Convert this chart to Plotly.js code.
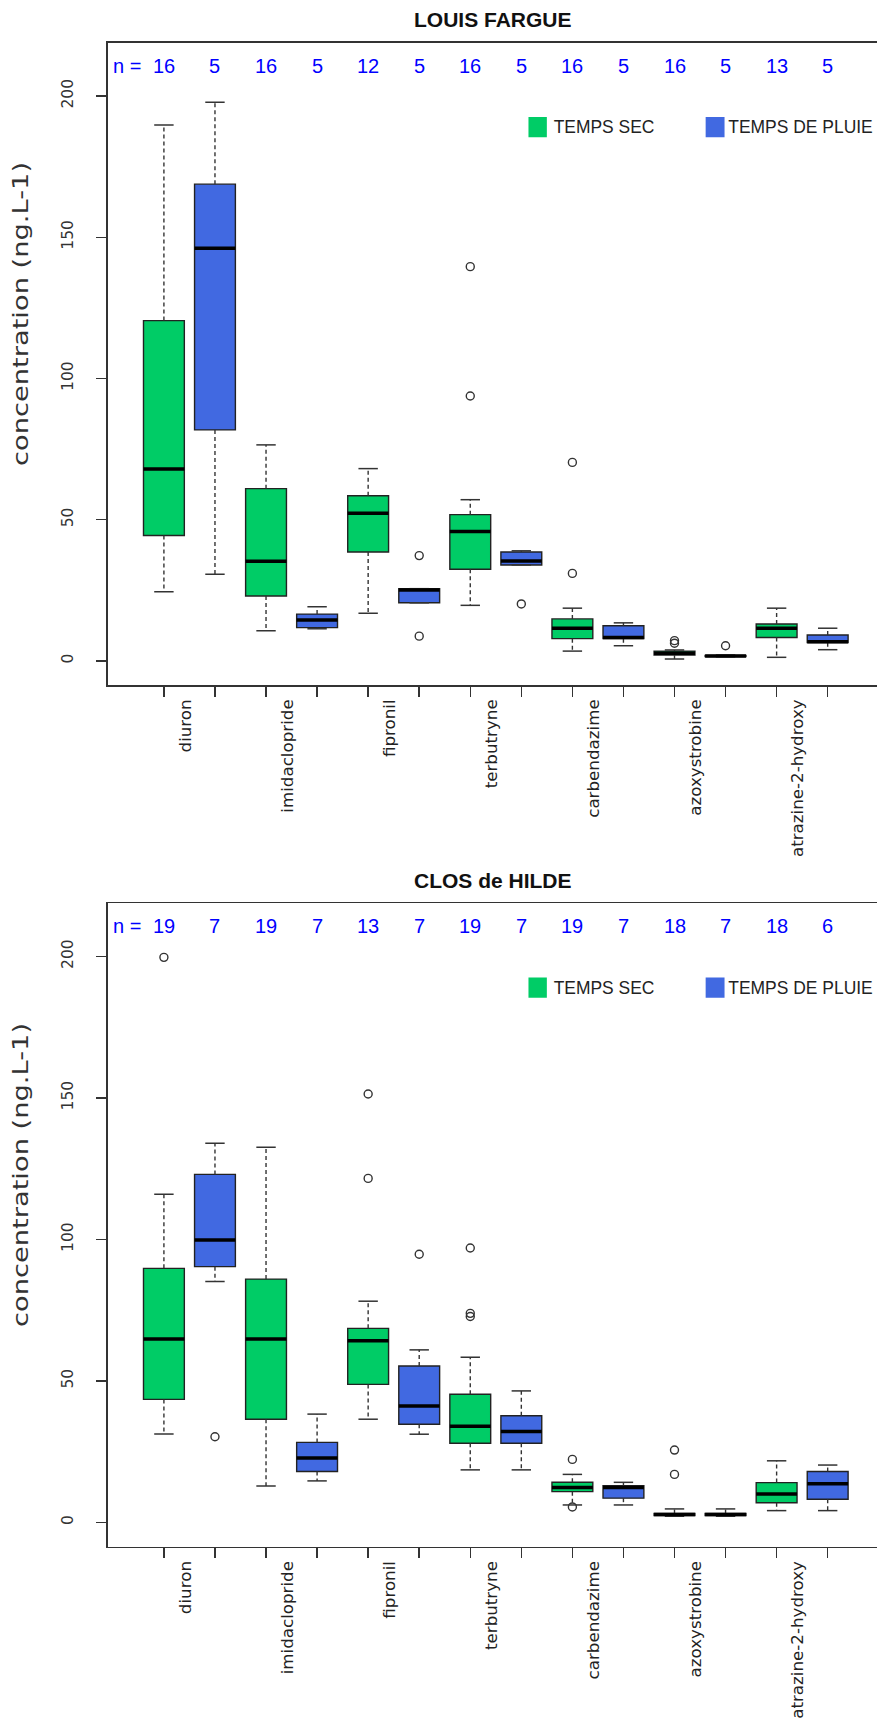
<!DOCTYPE html>
<html>
<head>
<meta charset="utf-8">
<script src="https://cdn.plot.ly/plotly-3.0.1.min.js"></script>
<style>html,body{margin:0;padding:0;background:#ffffff;}</style>
</head>
<body>
<div id="chart" style="width:877px;height:1718px;"></div>
<script>
// ---------------- DATA ----------------
const categories = ["diuron", "imidaclopride", "fipronil", "terbutryne", "carbendazime", "azoxystrobine", "atrazine-2-hydroxy"];
const seriesNames = ["TEMPS SEC", "TEMPS DE PLUIE"];
const panelTitles = ["LOUIS FARGUE", "CLOS de HILDE"];
const yTickValues = [0, 50, 100, 150, 200];
const yAxisTitle = "concentration (ng.L-1)";

// LOUIS FARGUE - TEMPS SEC
const lfSecN = [16, 16, 12, 16, 16, 16, 13];
const lfSecLower = [24.5, 10.7, 16.9, 19.7, 3.5, 0.7, 1.3];
const lfSecQ1 = [44.4, 23.0, 38.6, 32.5, 7.9, 2.1, 8.3];
const lfSecMedian = [68.0, 35.3, 52.3, 45.8, 11.6, 2.7, 11.6];
const lfSecQ3 = [120.5, 61.0, 58.5, 51.8, 14.9, 3.5, 13.1];
const lfSecUpper = [189.7, 76.5, 68.1, 57.1, 18.7, 3.9, 18.7];
const lfSecOutliers = [[], [], [], [93.8, 139.6], [31.0, 70.3], [6.3, 7.2], []];

// LOUIS FARGUE - TEMPS DE PLUIE
const lfPluieN = [5, 5, 5, 5, 5, 5, 5];
const lfPluieLower = [30.7, 11.4, 20.6, 34.0, 5.4, 1.5, 4.0];
const lfPluieQ1 = [81.8, 11.8, 20.6, 34.0, 7.9, 1.6, 6.5];
const lfPluieMedian = [146.1, 14.5, 25.1, 35.4, 8.3, 1.8, 6.8];
const lfPluieQ3 = [168.8, 16.6, 25.6, 38.6, 12.5, 2.0, 9.2];
const lfPluieUpper = [197.8, 19.2, 25.6, 39.0, 13.5, 2.1, 11.6];
const lfPluieOutliers = [[], [], [8.8, 37.3], [20.2], [], [5.4], []];

// CLOS de HILDE - TEMPS SEC
const chSecN = [19, 19, 13, 19, 19, 18, 18];
const chSecLower = [31.3, 12.9, 36.5, 18.6, 6.2, 2.2, 4.2];
const chSecQ1 = [43.5, 36.5, 48.8, 28.0, 10.9, 2.5, 7.0];
const chSecMedian = [64.8, 64.8, 64.2, 34.0, 12.4, 2.8, 10.1];
const chSecQ3 = [89.8, 86.0, 68.6, 45.3, 14.2, 3.2, 14.1];
const chSecUpper = [116.0, 132.6, 78.2, 58.4, 17.0, 4.8, 21.8];
const chSecOutliers = [[199.7], [], [121.6, 151.4], [72.8, 73.9, 97.0], [5.5, 22.3], [17.0, 25.6], []];

// CLOS de HILDE - TEMPS DE PLUIE
const chPluieN = [7, 7, 7, 7, 7, 7, 6];
const chPluieLower = [85.2, 14.7, 31.2, 18.6, 6.2, 2.2, 4.2];
const chPluieQ1 = [90.4, 18.0, 34.7, 28.0, 8.6, 2.5, 8.2];
const chPluieMedian = [99.8, 22.8, 41.2, 32.2, 12.4, 2.8, 13.7];
const chPluieQ3 = [123.0, 28.3, 55.3, 37.7, 13.0, 3.2, 18.0];
const chPluieUpper = [134.0, 38.3, 61.0, 46.5, 14.2, 4.8, 20.3];
const chPluieOutliers = [[30.3], [], [94.8], [], [], [], []];

// ---------------- STYLE / LAYOUT ----------------
const colors = ["#00CC66", "#4169E1"];
const W = 877, H = 1718;
const xRange = [-0.097, 14.966];
const xDomain = [107.9 / W, 1];
const frameColor = "#333333";
const panelBoxes = [
  {top: 42.7, bottom: 685, yRange: [-8.50, 218.87], titleY: 19.5, ytitleY: 314},
  {top: 903.3, bottom: 1546.7, yRange: [-8.55, 218.8], titleY: 880, ytitleY: 1175}
];
const boxWidth = 0.8, capHalf = 0.19, labelShift = 0.42, nLabelY = 210.7;
const sansFont = "Liberation Sans, Arial, sans-serif";
const wideFont = "DejaVu Sans, Verdana, sans-serif";
// stretched / condensed text (reference image is not uniformly scaled)
const textLengths = {};
textLengths[yAxisTitle] = 304;
textLengths[seriesNames[0]] = 100.7;
textLengths[seriesNames[1]] = 144.5;
const legendLayout = [{x0: 8.14, x1: 8.50, tx: 9.62}, {x0: 11.61, x1: 11.98, tx: 13.46}];

const panelData = [
  {sec: {n: lfSecN, lo: lfSecLower, q1: lfSecQ1, med: lfSecMedian, q3: lfSecQ3, up: lfSecUpper, out: lfSecOutliers},
   pluie: {n: lfPluieN, lo: lfPluieLower, q1: lfPluieQ1, med: lfPluieMedian, q3: lfPluieQ3, up: lfPluieUpper, out: lfPluieOutliers}},
  {sec: {n: chSecN, lo: chSecLower, q1: chSecQ1, med: chSecMedian, q3: chSecQ3, up: chSecUpper, out: chSecOutliers},
   pluie: {n: chPluieN, lo: chPluieLower, q1: chPluieQ1, med: chPluieMedian, q3: chPluieQ3, up: chPluieUpper, out: chPluieOutliers}}
];

const posSec = categories.map((c, i) => 2 * i + 1);
const posPluie = categories.map((c, i) => 2 * i + 2);
const allPos = categories.flatMap((c, i) => [2 * i + 1, 2 * i + 2]);
const labelPos = posSec.map(v => v + labelShift);

function vSegs(xs, a, b) {
  const X = [], Y = [];
  xs.forEach((x, i) => { X.push(x, x, null); Y.push(a[i], b[i], null); });
  return {X, Y};
}
function hSegs(xs, ys, half) {
  const X = [], Y = [];
  xs.forEach((x, i) => { X.push(x - half, x + half, null); Y.push(ys[i], ys[i], null); });
  return {X, Y};
}

const traces = [];
const annotations = [];
const shapes = [];
const layout = {
  width: W, height: H, autosize: false,
  margin: {l: 0, r: 0, t: 0, b: 0},
  paper_bgcolor: "#ffffff", plot_bgcolor: "#ffffff",
  showlegend: false, boxmode: "overlay",
  font: {family: sansFont, color: "#222"}
};

panelData.forEach((pd, p) => {
  const box = panelBoxes[p];
  const xa = p === 0 ? "x" : "x2";
  const ya = p === 0 ? "y" : "y2";
  const xl = p === 0 ? "x3" : "x4";
  const dom = [1 - box.bottom / H, 1 - box.top / H];

  [["sec", posSec, 0], ["pluie", posPluie, 1]].forEach(([key, pos, ci]) => {
    const s = pd[key];
    // dashed whiskers
    const wu = vSegs(pos, s.q3, s.up), wl = vSegs(pos, s.q1, s.lo);
    traces.push({type: "scatter", mode: "lines", x: wu.X.concat(wl.X), y: wu.Y.concat(wl.Y),
      xaxis: xa, yaxis: ya, line: {color: frameColor, width: 1.4, dash: "4px,3px"}, hoverinfo: "skip", connectgaps: false});
    // box bodies
    traces.push({type: "box", name: seriesNames[ci], orientation: "v", x: pos,
      q1: s.q1, median: s.med, q3: s.q3, lowerfence: s.q1, upperfence: s.q3,
      width: boxWidth, whiskerwidth: 0, fillcolor: colors[ci],
      line: {color: "#222222", width: 1.4}, boxpoints: false, xaxis: xa, yaxis: ya, hoverinfo: "skip"});
    // caps
    const cu = hSegs(pos, s.up, capHalf), cl = hSegs(pos, s.lo, capHalf);
    traces.push({type: "scatter", mode: "lines", x: cu.X.concat(cl.X), y: cu.Y.concat(cl.Y),
      xaxis: xa, yaxis: ya, line: {color: frameColor, width: 1.5}, hoverinfo: "skip"});
    // medians
    const md = hSegs(pos, s.med, boxWidth / 2);
    traces.push({type: "scatter", mode: "lines", x: md.X, y: md.Y,
      xaxis: xa, yaxis: ya, line: {color: "#000000", width: 3.5}, hoverinfo: "skip"});
    // outliers
    const ox = [], oy = [];
    s.out.forEach((arr, i) => arr.forEach(v => { ox.push(pos[i]); oy.push(v); }));
    traces.push({type: "scatter", mode: "markers", x: ox, y: oy, xaxis: xa, yaxis: ya,
      marker: {symbol: "circle-open", size: 8, color: "#333333", line: {width: 1.4}}, hoverinfo: "skip"});
    // n labels
    s.n.forEach((n, i) => annotations.push({xref: xa, yref: ya, x: pos[i], y: nLabelY, text: String(n),
      showarrow: false, xanchor: "center", yanchor: "middle",
      font: {family: sansFont, size: 20, color: "#0000FF"}}));
  });
  annotations.push({xref: xa, yref: ya, x: -0.04, y: nLabelY, text: "n =", showarrow: false,
    xanchor: "left", yanchor: "middle", font: {family: sansFont, size: 20, color: "#0000FF"}});

  // invisible carrier trace so the category-label axis is drawn
  traces.push({type: "scatter", mode: "markers", x: labelPos, y: labelPos.map(() => box.yRange[0]),
    xaxis: xl, yaxis: ya, marker: {size: 1, opacity: 0}, hoverinfo: "skip"});

  // legend (manual, R-style)
  legendLayout.forEach((li, ci) => {
    shapes.push({type: "rect", xref: xa, yref: ya, x0: li.x0, x1: li.x1, y0: 185.4, y1: 192.6,
      fillcolor: colors[ci], line: {width: 0}});
    annotations.push({xref: xa, yref: ya, x: li.tx, y: 189, text: seriesNames[ci], showarrow: false,
      xanchor: "center", yanchor: "middle", font: {family: sansFont, size: 18, color: "#222"}});
  });

  // titles
  annotations.push({xref: "paper", yref: "paper", x: 493 / W, y: 1 - box.titleY / H, text: "<b>" + panelTitles[p] + "</b>",
    showarrow: false, xanchor: "center", yanchor: "middle", font: {family: sansFont, size: 21, color: "#111"}});
  annotations.push({xref: "paper", yref: "paper", x: 21 / W, y: 1 - box.ytitleY / H, text: yAxisTitle, textangle: -90,
    showarrow: false, xanchor: "center", yanchor: "middle", font: {family: wideFont, size: 21, color: "#333"}});

  const xName = p === 0 ? "xaxis" : "xaxis2";
  const yName = p === 0 ? "yaxis" : "yaxis2";
  const lName = p === 0 ? "xaxis3" : "xaxis4";
  layout[xName] = {domain: xDomain, range: xRange, anchor: ya, tickmode: "array", tickvals: allPos,
    ticktext: allPos.map(() => ""), ticks: "outside", ticklen: 10, tickwidth: 1.5, tickcolor: frameColor,
    showline: true, linecolor: frameColor, linewidth: 1.6, mirror: true, showgrid: false, zeroline: false};
  layout[yName] = {domain: dom, range: box.yRange, anchor: xa, tickmode: "array", tickvals: yTickValues,
    ticktext: yTickValues.map(String), ticks: "outside", ticklen: 10, tickwidth: 1.5, tickcolor: frameColor,
    tickangle: -90, ticklabelstandoff: 17,
    tickfont: {family: wideFont, size: 15.5, color: "#333"},
    showline: true, linecolor: frameColor, linewidth: 1.6, mirror: false, showgrid: false, zeroline: false};
  layout[lName] = {overlaying: xa, anchor: ya, side: "bottom", range: xRange, tickmode: "array",
    tickvals: labelPos, ticktext: categories, tickangle: -90, ticks: "",
    ticklabelstandoff: 10, tickfont: {family: wideFont, size: 16.7, color: "#222"},
    showline: false, showgrid: false, zeroline: false};
});

layout.annotations = annotations;
layout.shapes = shapes;

Plotly.newPlot("chart", traces, layout, {displayModeBar: false, staticPlot: true}).then(gd => {
  // force the text lengths measured on the reference (glyphs stretched / condensed)
  gd.querySelectorAll("text.annotation-text").forEach(el => {
    const L = textLengths[el.textContent];
    if (L) {
      el.setAttribute("textLength", L);
      el.setAttribute("lengthAdjust", "spacingAndGlyphs");
    }
  });
});
</script>
</body>
</html>
